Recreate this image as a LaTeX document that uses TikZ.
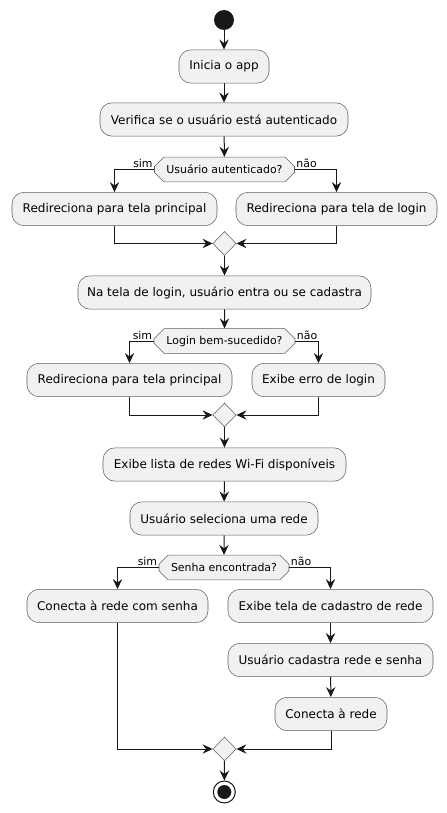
\documentclass[tikz,border=0pt]{standalone}
\usepackage{fontspec}
\setmainfont{DejaVu Sans}
\usetikzlibrary{arrows.meta,shapes.misc,shapes.geometric}
\definecolor{boxfill}{HTML}{F1F1F1}
\definecolor{linec}{HTML}{181818}
\definecolor{borderc}{HTML}{5E5E5E}
\begin{document}
\begin{tikzpicture}[x=0.75pt,y=-0.75pt,
  act/.style={draw=borderc,line width=0.4pt,fill=boxfill,rounded corners=9pt,minimum height=25pt,inner sep=0pt,font=\fontsize{9}{11}\selectfont,text=black},
  dec/.style={draw=borderc,line width=0.4pt,fill=boxfill,chamfered rectangle,chamfered rectangle xsep=6pt,chamfered rectangle angle=45,inner sep=0pt,minimum height=18.5pt,font=\fontsize{8.2}{10}\selectfont},
  mrg/.style={draw=borderc,line width=0.4pt,fill=boxfill,diamond,inner sep=0pt,minimum width=17.5pt,minimum height=18pt},
  flow/.style={draw=linec,line width=0.75pt,-{Stealth[length=7.5pt,width=7pt,inset=2.6pt]}},
  plain/.style={draw=linec,line width=0.75pt},
  lbl/.style={font=\fontsize{8.2}{10}\selectfont,inner sep=0pt}
]
\useasboundingbox (0,0) rectangle (446,813);
% start
\node[circle,fill=linec,minimum size=15pt,inner sep=0pt] (start) at (224,20) {};
\node[act,minimum width=67.5pt] (a1) at (224,66.5) {Inicia o app};
\node[act,minimum width=186pt] (a2) at (224,119.5) {Verifica se o usuário está autenticado};
\node[dec,minimum width=105pt] (d1) at (224.5,169.5) {Usuário autenticado?};
\node[act,minimum width=153.75pt] (l1) at (114.5,209) {Redireciona para tela principal};
\node[act,minimum width=150.75pt] (r1) at (336.5,209) {Redireciona para tela de login};
\node[mrg] (m1) at (224.5,243.5) {};
\node[act,minimum width=219.75pt] (a3) at (224.5,292.5) {Na tela de login, usuário entra ou se cadastra};
\node[dec,minimum width=105.75pt] (d2) at (224.5,341) {Login bem-sucedido?};
\node[act,minimum width=153.75pt] (l2) at (129.5,380) {Redireciona para tela principal};
\node[act,minimum width=99.75pt] (r2) at (318.5,380) {Exibe erro de login};
\node[mrg] (m2) at (224.5,415) {};
\node[act,minimum width=182.25pt] (a4) at (224.5,464.5) {Exibe lista de redes Wi-Fi disponíveis};
\node[act,minimum width=141pt] (a5) at (224,518.5) {Usuário seleciona uma rede};
\node[dec,minimum width=97.5pt] (d3) at (224,567.5) {Senha encontrada?};
\node[act,minimum width=135.75pt] (l3) at (117.5,606) {Conecta à rede com senha};
\node[act,minimum width=153.75pt] (r3) at (330.5,606) {Exibe tela de cadastro de rede};
\node[act,minimum width=153.75pt] (r4) at (330.5,660) {Usuário cadastra rede e senha};
\node[act,minimum width=84pt] (r5) at (331,714) {Conecta à rede};
\node[mrg] (m3) at (224.5,749) {};
\node[circle,draw=linec,line width=0.75pt,minimum size=16.5pt,inner sep=0pt] (stop) at (224.3,792) {};
\node[circle,fill=linec,minimum size=10.5pt,inner sep=0pt] (stopin) at (stop.center) {};
% edges
\draw[flow] (start) -- (a1);
\draw[flow] (a1) -- (a2);
\draw[flow] (a2) -- (d1);
\draw[flow] (d1.west) -| (l1.north);
\draw[flow] (d1.east) -| (r1.north);
\node[lbl,anchor=south east] (s1) at ([xshift=-1pt,yshift=1pt]d1.west) {sim};
\node[lbl,anchor=south west] (n1) at ([xshift=1pt,yshift=1pt]d1.east) {não};
\draw[flow] (l1.south) |- (m1.west);
\draw[flow] (r1.south) |- (m1.east);
\draw[flow] (m1) -- (a3);
\draw[flow] (a3) -- (d2);
\draw[flow] (d2.west) -| (l2.north);
\draw[flow] (d2.east) -| (r2.north);
\node[lbl,anchor=south east] (s2) at ([xshift=-1pt,yshift=1pt]d2.west) {sim};
\node[lbl,anchor=south west] (n2) at ([xshift=1pt,yshift=1pt]d2.east) {não};
\draw[flow] (l2.south) |- (m2.west);
\draw[flow] (r2.south) |- (m2.east);
\draw[flow] (m2) -- (a4);
\draw[flow] (a4) -- (a5);
\draw[flow] (a5) -- (d3);
\draw[flow] (d3.west) -| (l3.north);
\draw[flow] (d3.east) -| (r3.north);
\node[lbl,anchor=south east] (s3) at ([xshift=-1pt,yshift=1pt]d3.west) {sim};
\node[lbl,anchor=south west] (n3) at ([xshift=1pt,yshift=1pt]d3.east) {não};
\draw[flow] (r3) -- (r4);
\draw[flow] (r4) -- (r5);
\draw[flow] (l3.south) |- (m3.west);
\draw[flow] (r5.south) |- (m3.east);
\draw[flow] (m3) -- (stop);
\end{tikzpicture}
\end{document}
